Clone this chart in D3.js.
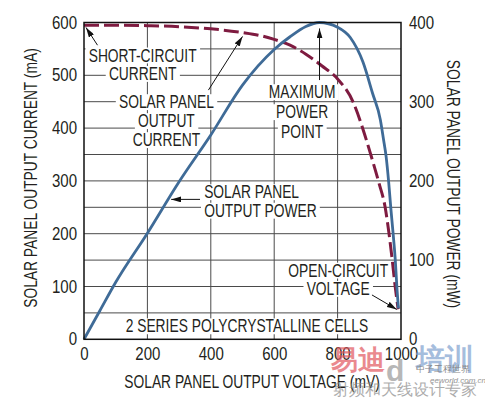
<!DOCTYPE html>
<html>
<head>
<meta charset="utf-8">
<script src="https://cdn.jsdelivr.net/npm/d3@7"></script>
<style>
  body { margin: 0; background: #fff; }
  svg { display: block; }
  text { font-family: "Liberation Sans", Arial, sans-serif; fill: #231f20; }
</style>
</head>
<body>
<svg id="chart" width="485" height="399"></svg>
<script>
// values
const currentVoltage = [0, 100, 200, 300, 400, 500, 550, 600, 650, 700, 750, 800, 850, 880, 905, 930, 950, 962, 972, 981, 991];
const currentMA = [595, 595, 594, 592, 588, 581, 576, 568, 557, 540, 518, 493, 448, 398, 349, 297, 250, 201, 152, 103, 57];

const powerVoltage = [0, 50, 100, 200, 300, 400, 500, 600, 650, 700, 743, 800, 840, 880, 910, 935, 945, 953, 961, 968, 975, 982, 987, 992];
const powerMW = [0, 36, 72, 134, 199, 258, 321, 366, 382, 395, 400, 394, 381, 350, 311, 277, 252, 231, 199, 165, 134, 100, 66, 39];

const xTicks = [0, 200, 400, 600, 800, 1000];
const leftTicks = [0, 100, 200, 300, 400, 500, 600];
const rightTicks = [0, 100, 200, 300, 400];

const svg = d3.select("#chart");
const plotLeft = 84, plotRight = 401, plotTop = 22.5, plotBottom = 339.3;
const fs = 17.5;
const squeeze = 0.79;     // narrow face look
const squeezeNum = 0.86;
const fmt = d3.format("d");

const x = d3.scaleLinear().domain([0, 1000]).range([plotLeft, plotRight]);
const yI = d3.scaleLinear().domain([0, 600]).range([plotBottom, plotTop]);
const yP = d3.scaleLinear().domain([0, 400]).range([plotBottom, plotTop]);

// grid: every 200 mV, every 50 mA
const grid = svg.append("g").attr("stroke", "#4a4a4a").attr("stroke-width", 1);
grid.selectAll("line.v")
    .data(d3.range(200, 1000, 200))
    .enter().append("line")
    .attr("x1", d => x(d)).attr("x2", d => x(d))
    .attr("y1", plotTop).attr("y2", plotBottom);
grid.selectAll("line.h")
    .data(d3.range(50, 600, 50))
    .enter().append("line")
    .attr("x1", plotLeft).attr("x2", plotRight)
    .attr("y1", d => yI(d)).attr("y2", d => yI(d));

// axes (labels only)
const axL = svg.append("g").attr("transform", `translate(${plotLeft},0)`)
    .call(d3.axisLeft(yI).tickValues(leftTicks).tickFormat(fmt).tickSize(0).tickPadding(7 / squeezeNum));
const axR = svg.append("g").attr("transform", `translate(${plotRight},0)`)
    .call(d3.axisRight(yP).tickValues(rightTicks).tickFormat(fmt).tickSize(0).tickPadding(8 / squeezeNum));
const axB = svg.append("g").attr("transform", `translate(0,${plotBottom})`)
    .call(d3.axisBottom(x).tickValues(xTicks).tickFormat(fmt).tickSize(0).tickPadding(8));
[axL, axR, axB].forEach(a => {
    a.select(".domain").remove();
    a.attr("font-family", null).attr("font-size", null);
    a.selectAll("text").attr("font-size", fs).attr("fill", "#231f20")
        .attr("transform", `scale(${squeezeNum},1)`);
});

// axis titles
svg.append("text")
    .attr("transform", `translate(37,178) rotate(-90) scale(${squeeze},1)`)
    .attr("text-anchor", "middle").attr("font-size", fs)
    .text("SOLAR PANEL OUTPUT CURRENT (mA)");
svg.append("text")
    .attr("transform", `translate(447,184) rotate(90) scale(${squeeze},1)`)
    .attr("text-anchor", "middle").attr("font-size", fs)
    .text("SOLAR PANEL OUTPUT POWER (mW)");
svg.append("text")
    .attr("transform", `translate(252,388) scale(${squeeze},1)`)
    .attr("text-anchor", "middle").attr("font-size", fs)
    .text("SOLAR PANEL OUTPUT VOLTAGE (mV)");

// annotations, placed in chart units
const notes = [
    { lines: ["SHORT-CIRCUIT", "CURRENT"], v: 185, i: 526, lh: 18.5, anchor: "middle" },
    { lines: ["SOLAR PANEL", "OUTPUT", "CURRENT"], v: 260, i: 437.6, lh: 19, anchor: "middle" },
    { lines: ["MAXIMUM", "POWER", "POINT"], v: 688, i: 456.5, lh: 20, anchor: "middle" },
    { lines: ["SOLAR PANEL", "OUTPUT POWER"], v: 379, i: 267, lh: 18.5, anchor: "start" },
    { lines: ["OPEN-CIRCUIT", "VOLTAGE"], v: 802, i: 118.6, lh: 18.3, anchor: "middle" },
    { lines: ["2 SERIES POLYCRYSTALLINE CELLS"], v: 514, i: 13, lh: 18, anchor: "middle" }
];
const arrows = [
    { from: [42.6, 557], to: [6.3, 590.6] },
    { from: [392.5, 472], to: [500, 573.6] },
    { from: [743, 491], to: [743, 588.7] },
    { from: [366, 265], to: [275, 265] },
    { from: [908.4, 84], to: [986.7, 56.5] }
];

const bgLayer = svg.append("g");
const curveLayer = svg.append("g");
const textLayer = svg.append("g");

notes.forEach(n => {
    n.lines.forEach((s, k) => {
        const tf = `translate(${x(n.v)},${yI(n.i) + k * n.lh}) scale(${squeeze},1)`;
        const t = textLayer.append("text")
            .attr("transform", tf)
            .attr("text-anchor", n.anchor).attr("font-size", fs)
            .text(s);
        const b = t.node().getBBox();
        bgLayer.append("rect")
            .attr("transform", tf)
            .attr("x", b.x - 4).attr("y", b.y + 1.5)
            .attr("width", b.width + 8).attr("height", b.height - 3)
            .attr("fill", "#fff");
    });
});

// curves
const line = d3.line().curve(d3.curveMonotoneX);
curveLayer.append("path")
    .attr("d", line(currentVoltage.map((v, k) => [x(v), yI(currentMA[k])])))
    .attr("fill", "none").attr("stroke", "#7e1b40").attr("stroke-width", 3)
    .attr("stroke-dasharray", "15,5");
curveLayer.append("path")
    .attr("d", line(powerVoltage.map((v, k) => [x(v), yP(powerMW[k])])))
    .attr("fill", "none").attr("stroke", "#3f6b97").attr("stroke-width", 2.8);

// arrows
svg.append("defs").append("marker")
    .attr("id", "head").attr("markerUnits", "userSpaceOnUse")
    .attr("viewBox", "0 0 10 6").attr("refX", 10).attr("refY", 3)
    .attr("markerWidth", 10).attr("markerHeight", 6).attr("orient", "auto")
    .append("path").attr("d", "M0,0L10,3L0,6Z").attr("fill", "#111");
svg.append("g").selectAll("line")
    .data(arrows)
    .enter().append("line")
    .attr("x1", d => x(d.from[0])).attr("y1", d => yI(d.from[1]))
    .attr("x2", d => x(d.to[0])).attr("y2", d => yI(d.to[1]))
    .attr("stroke", "#111").attr("stroke-width", 1)
    .attr("marker-end", "url(#head)");

// frame
svg.append("rect")
    .attr("x", plotLeft).attr("y", plotTop)
    .attr("width", plotRight - plotLeft).attr("height", plotBottom - plotTop)
    .attr("fill", "none").attr("stroke", "#111").attr("stroke-width", 1.5);

// watermark
const wm = svg.append("g").attr("opacity", 0.7);
wm.append("text").attr("x", 331).attr("y", 369)
    .attr("font-family", "Noto Sans CJK SC").attr("font-size", 27).attr("font-weight", "bold")
    .style("fill", "#e2585f").text("易迪");
wm.append("text").attr("x", 386).attr("y", 381)
    .attr("font-family", "DejaVu Sans").attr("font-size", 30).attr("font-weight", "bold")
    .style("fill", "#9a9a9a").text("d");
wm.append("text").attr("x", 416).attr("y", 369)
    .attr("font-family", "Noto Sans CJK SC").attr("font-size", 29).attr("font-weight", "bold")
    .style("fill", "#7fa2cf").text("培训");
wm.append("text").attr("x", 416).attr("y", 372)
    .attr("font-family", "Noto Sans CJK SC").attr("font-size", 9)
    .style("fill", "#555").text("中子工程世界");
wm.append("text").attr("x", 430).attr("y", 383)
    .attr("font-family", "DejaVu Sans").attr("font-size", 8).attr("font-style", "italic")
    .style("fill", "#666").text("eeworld.com.cn");
wm.append("text").attr("x", 333).attr("y", 395)
    .attr("font-family", "Noto Sans CJK SC").attr("font-size", 15.5)
    .style("fill", "#8a8a8a").text("射频和天线设计专家");
</script>
</body>
</html>
